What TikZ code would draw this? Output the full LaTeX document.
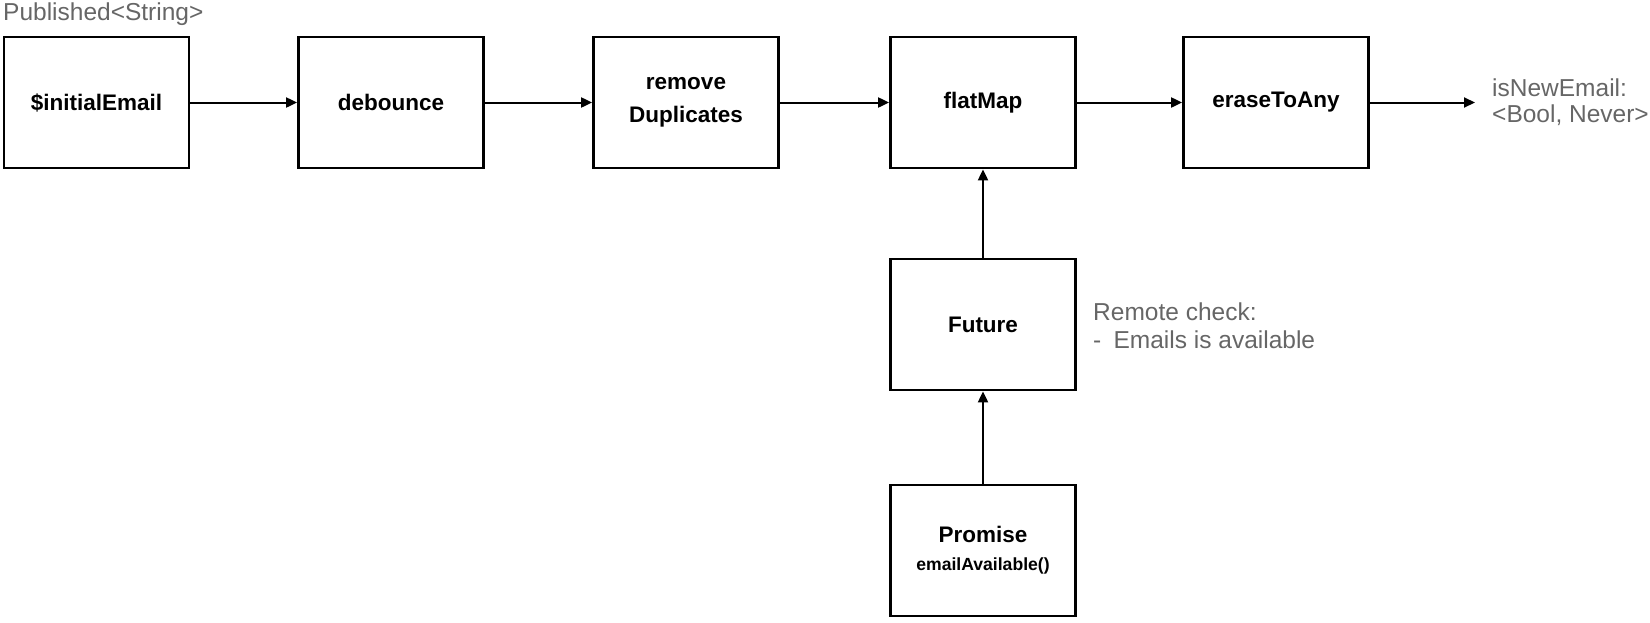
\documentclass[tikz,border=0pt]{standalone}
\usepackage{fontspec}
\setmainfont{Liberation Sans}
\usetikzlibrary{arrows.meta}
\definecolor{lbl}{HTML}{666666}
\begin{document}
\begin{tikzpicture}[x=1pt,y=-1pt,
  box/.style={draw=black,line width=2.8pt,minimum width=185pt,minimum height=131pt,inner sep=0pt,align=center,font=\fontsize{22.5}{33}\selectfont\bfseries},
  conn/.style={line width=2pt,-{Triangle[length=11pt,width=10pt]}},
  note/.style={text=lbl,font=\fontsize{24.5}{26}\selectfont,align=left,anchor=west,inner sep=0pt}]
\useasboundingbox (0,0) rectangle (1650,622);
\node[box] (init) at (96.5,102.5) {\$initialEmail};
\node[box] (deb) at (391,102.5) {debounce};
\node[box] (rem) at (686,102.5) {remove\\Duplicates};
\node[box] (flat) at (983,102.5) {flatMap};
\node[box] (erase) at (1276,102.5) {eraseToAny};
\node[box] (fut) at (983,324.5) {Future};
\node[box] (prom) at (983,550.5) {Promise\\[-5pt]{\fontsize{17.6}{22}\selectfont emailAvailable()}};
\node[note] (pub) at (3,14) {Published<String>};
\node[note] (isnew) at (1492,102) {isNewEmail:\\<Bool, Never>};
\node[note,font=\fontsize{24.5}{28}\selectfont] (remote) at (1093,326) {Remote check:\\-\enspace Emails is available};
\coordinate (out) at (1475,102.5);
\draw[conn] (init) -- (deb);
\draw[conn] (deb) -- (rem);
\draw[conn] (rem) -- (flat);
\draw[conn] (flat) -- (erase);
\draw[conn] (erase) -- (out);
\draw[conn] (fut) -- (flat);
\draw[conn] (prom) -- (fut);
\end{tikzpicture}
\end{document}
